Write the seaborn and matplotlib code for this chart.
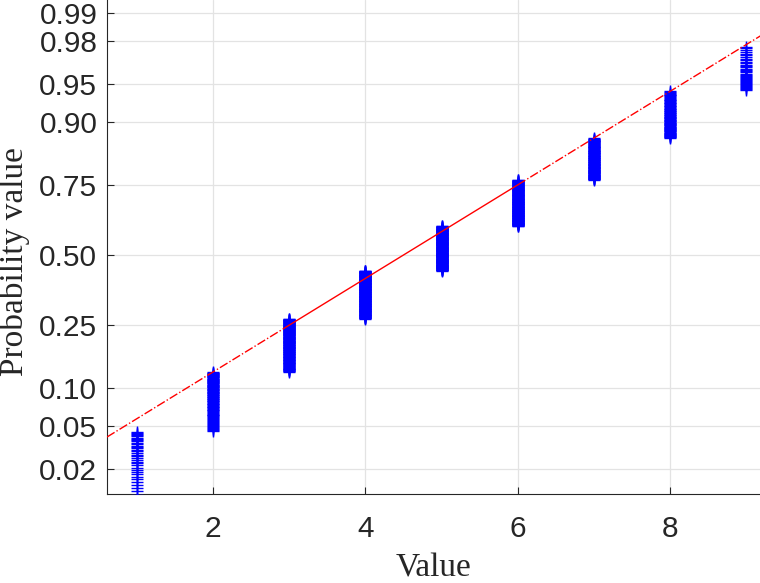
from statistics import NormalDist

import numpy as np
import matplotlib
matplotlib.use('Agg')
import matplotlib.pyplot as plt
import seaborn as sns

# observed integer values and how many times each one occurs
values = [1, 2, 3, 4, 5, 6, 7, 8, 9, 10, 11]
counts = [45, 85, 140, 170, 170, 155, 105, 73, 35, 15, 7]

prob_ticks = [0.02, 0.05, 0.10, 0.25, 0.50, 0.75, 0.90, 0.95, 0.98, 0.99]
prob_labels = ["0.02", "0.05", "0.10", "0.25", "0.50", "0.75", "0.90", "0.95", "0.98", "0.99"]
x_ticks = [2, 4, 6, 8]

nd = NormalDist()

data = np.sort(np.repeat(values, counts))
n = len(data)
pos = (np.arange(1, n + 1) - 0.5) / n
z = np.array([nd.inv_cdf(p) for p in pos])

# reference line through the quartiles
q1, q3 = np.percentile(data, [25, 75])
z1, z3 = nd.inv_cdf(0.25), nd.inv_cdf(0.75)
slope = (z3 - z1) / (q3 - q1)

sns.set_style("ticks")
fig = plt.figure(figsize=(7.6, 5.83), dpi=100)
ax = fig.add_axes([107 / 760, 89 / 583, 653 / 760, 494 / 583])

xmin, xmax = 0.608, 9.18
ymin, ymax = -2.298, 2.452

ax.grid(True, color="#e3e3e3", linewidth=0.9, zorder=0)
ax.set_axisbelow(True)

sns.scatterplot(x=data, y=z, marker="+", s=74, color="blue", linewidth=1.0,
                ax=ax, zorder=3, legend=False)

def line_z(x):
    return z1 + slope * (np.asarray(x) - q1)

ax.plot([xmin, q1], line_z([xmin, q1]), color="red", lw=1.0, ls="-.", zorder=4)
ax.plot([q1, q3], line_z([q1, q3]), color="red", lw=1.0, ls="-", zorder=4)
ax.plot([q3, xmax + 1], line_z([q3, xmax + 1]), color="red", lw=1.0, ls="-.", zorder=4)

ax.set_xlim(xmin, xmax)
ax.set_ylim(ymin, ymax)
ax.set_xticks(x_ticks)
ax.set_yticks([nd.inv_cdf(p) for p in prob_ticks])
ax.set_yticklabels(prob_labels)

for lab in ax.get_xticklabels() + ax.get_yticklabels():
    lab.set_fontfamily("Liberation Sans")
    lab.set_fontsize(21.5)
    lab.set_color("#262626")

ax.tick_params(axis="both", direction="in", length=5, width=0.8, color="#262626")
ax.tick_params(axis="x", pad=15)
ax.tick_params(axis="y", pad=7)

for side in ["top", "right"]:
    ax.spines[side].set_visible(False)
for side in ["left", "bottom"]:
    ax.spines[side].set_color("#262626")
    ax.spines[side].set_linewidth(0.8)

ax.set_xlabel("Value", fontfamily="Liberation Serif", fontsize=24, labelpad=7)
ax.set_ylabel("Probability value", fontfamily="Liberation Serif", fontsize=24)
ax.yaxis.set_label_coords(-0.118, 0.47)

fig.savefig("out.png", dpi=100)
plt.close(fig)
